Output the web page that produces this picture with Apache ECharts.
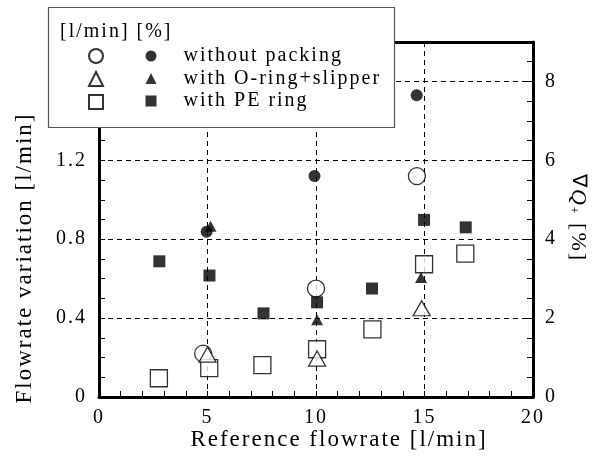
<!DOCTYPE html>
<html>
<head>
<meta charset="utf-8">
<script src="https://cdn.jsdelivr.net/npm/echarts@6/dist/echarts.min.js"></script>
<style>
html,body{margin:0;padding:0;background:#fff;}
#main{width:602px;height:461px;}
</style>
</head>
<body>
<div id="main"></div>
<script>
// Reference flowrate [l/min] vs flowrate variation [l/min] (open markers, left axis)
const noPackingLmin = [[4.8, 0.22], [10.0, 0.55], [14.65, 1.12]];
const oRingLmin = [[5.0, 0.215], [10.05, 0.195], [14.87, 0.45]];
const peRingLmin = [[2.76, 0.095], [5.08, 0.146], [7.53, 0.162], [10.05, 0.242], [12.6, 0.343], [14.98, 0.673], [16.88, 0.727]];
// Reference flowrate [l/min] vs ΔQ+ [%] (filled markers, right axis)
const noPackingPct = [[4.96, 4.19], [9.93, 5.60], [14.64, 7.65]];
const oRingPct = [[5.14, 4.33], [10.05, 1.96], [14.84, 3.03]];
const peRingPct = [[2.78, 3.44], [5.09, 3.08], [7.58, 2.12], [10.05, 2.40], [12.58, 2.75], [14.98, 4.49], [16.9, 4.30]];

const seriesNames = ['without packing', 'with O-ring+slipper', 'with PE ring'];
const openSuffix = ' [l/min]';
const xTitle = 'Reference flowrate [l/min]';
const yTitle = 'Flowrate variation [l/min]';
const legendHeader = '[l/min] [%]';

// the reference typesetting uses wide character spacing
(function () {
  const p = CanvasRenderingContext2D.prototype;
  const fill = p.fillText, measure = p.measureText;
  p.fillText = function () { this.letterSpacing = '2px'; return fill.apply(this, arguments); };
  p.measureText = function () { this.letterSpacing = '2px'; return measure.apply(this, arguments); };
})();

const FONT = 'Liberation Serif';
const chart = echarts.init(document.getElementById('main'), null, {renderer: 'canvas'});

const openStyle = {color: '#fff', borderColor: '#000', borderWidth: 1.3};
const fillStyle = {color: '#000'};

function sc(name, data, symbol, size, style, yIdx, z) {
  return {
    type: 'scatter', name: name, data: data, symbol: symbol, symbolSize: size,
    itemStyle: style, yAxisIndex: yIdx, silent: true, z: z,
    emphasis: {disabled: true}
  };
}

const option = {
  animation: false,
  backgroundColor: '#fff',
  textStyle: {fontFamily: FONT, color: '#000'},
  grid: {left: 99, right: 69, top: 42, bottom: 64, containLabel: false},
  xAxis: [{
    type: 'value', min: 0, max: 20, interval: 5, position: 'bottom',
    axisLine: {show: true, onZero: false, lineStyle: {color: '#000', width: 3}},
    axisTick: {show: true, inside: true, length: 6, lineStyle: {color: '#000', width: 1}},
    minorTick: {show: true, splitNumber: 5, length: 6, lineStyle: {color: '#000', width: 1}},
    axisLabel: {color: '#000', fontFamily: FONT, fontSize: 20, margin: 10},
    splitLine: {show: true, lineStyle: {color: '#000', width: 1, type: [5, 4]}},
    minorSplitLine: {show: false}
  }, {
    type: 'value', min: 0, max: 20, interval: 5, position: 'top',
    axisLine: {show: true, onZero: false, lineStyle: {color: '#000', width: 3}},
    axisTick: {show: false}, axisLabel: {show: false}, splitLine: {show: false}
  }],
  yAxis: [{
    type: 'value', min: 0, max: 1.8, interval: 0.4, position: 'left',
    axisLine: {show: true, onZero: false, lineStyle: {color: '#000', width: 3}},
    axisTick: {show: true, inside: true, length: 6, lineStyle: {color: '#000', width: 1}},
    minorTick: {show: true, splitNumber: 4, length: 6, lineStyle: {color: '#000', width: 1}},
    axisLabel: {color: '#000', fontFamily: FONT, fontSize: 20, margin: 12, showMaxLabel: false,
      formatter: v => (Math.round(v * 10) / 10).toString()},
    splitLine: {show: true, lineStyle: {color: '#000', width: 1, type: [5, 4]}}
  }, {
    type: 'value', min: 0, max: 9, interval: 2, position: 'right',
    axisLine: {show: true, onZero: false, lineStyle: {color: '#000', width: 3}},
    axisTick: {show: true, inside: true, length: 6, lineStyle: {color: '#000', width: 1}},
    minorTick: {show: true, splitNumber: 4, length: 6, lineStyle: {color: '#000', width: 1}},
    axisLabel: {color: '#000', fontFamily: FONT, fontSize: 20, margin: 12, showMaxLabel: false},
    splitLine: {show: false}
  }],
  legend: [{
    data: seriesNames.map(n => n + openSuffix),
    orient: 'vertical', left: 88, top: 48, padding: 0, itemGap: 7,
    itemWidth: 14, itemHeight: 14, selectedMode: false, z: 60,
    formatter: () => '',
    textStyle: {fontSize: 12, lineHeight: 14}
  }, {
    data: seriesNames,
    orient: 'vertical', left: 145.5, top: 45, padding: 0, itemGap: 0.5,
    itemWidth: 11, itemHeight: 11, selectedMode: false, z: 60,
    formatter: n => '{a|' + n + '}',
    textStyle: {fontFamily: FONT, fontSize: 20, color: '#000',
      rich: {a: {fontFamily: FONT, fontSize: 20, lineHeight: 22, color: '#000', padding: [0, 0, 0, 22]}}}
  }],
  graphic: [
    {type: 'rect', z: 50, shape: {x: 48.5, y: 7.5, width: 346, height: 120},
      style: {fill: '#fff', stroke: '#555', lineWidth: 1.2}, silent: true},
    {type: 'text', z: 60, x: 60, y: 32, silent: true,
      style: {text: legendHeader, fontFamily: FONT, fontSize: 20, fill: '#000', align: 'left', verticalAlign: 'middle'}},
    {type: 'text', z: 60, x: 339, y: 440, silent: true,
      style: {text: xTitle, fontFamily: FONT, fontSize: 23, fill: '#000', align: 'center', verticalAlign: 'middle'}},
    {type: 'text', z: 60, x: 25, y: 258, rotation: Math.PI / 2, silent: true,
      style: {text: yTitle, fontFamily: FONT, fontSize: 23, fill: '#000', align: 'center', verticalAlign: 'middle'}},
    {type: 'text', z: 60, x: 578, y: 218, rotation: -Math.PI / 2, silent: true,
      style: {text: '{d|∇}{q|Q}{s|+}{n| [%]}', fontFamily: FONT, fontSize: 22, fill: '#000', align: 'center', verticalAlign: 'middle',
        rich: {
          d: {fontFamily: FONT, fontSize: 20, fill: '#000'},
          q: {fontFamily: FONT, fontSize: 22, fontStyle: 'italic', fill: '#000'},
          s: {fontFamily: FONT, fontSize: 12, fill: '#000', verticalAlign: 'bottom', padding: [10, 0, 0, 0]},
          n: {fontFamily: FONT, fontSize: 22, fill: '#000'}
        }}}
  ],
  series: [
    sc(seriesNames[0] + openSuffix, noPackingLmin, 'circle', 17, openStyle, 0, 2),
    sc(seriesNames[1] + openSuffix, oRingLmin, 'triangle', [17, 15], openStyle, 0, 3),
    sc(seriesNames[2] + openSuffix, peRingLmin, 'rect', 17, openStyle, 0, 2),
    sc(seriesNames[0], noPackingPct, 'circle', 12, fillStyle, 1, 4),
    sc(seriesNames[1], oRingPct, 'triangle', [12, 11], fillStyle, 1, 5),
    sc(seriesNames[2], peRingPct, 'rect', 12, fillStyle, 1, 4)
  ]
};
chart.setOption(option);
</script>
</body>
</html>
